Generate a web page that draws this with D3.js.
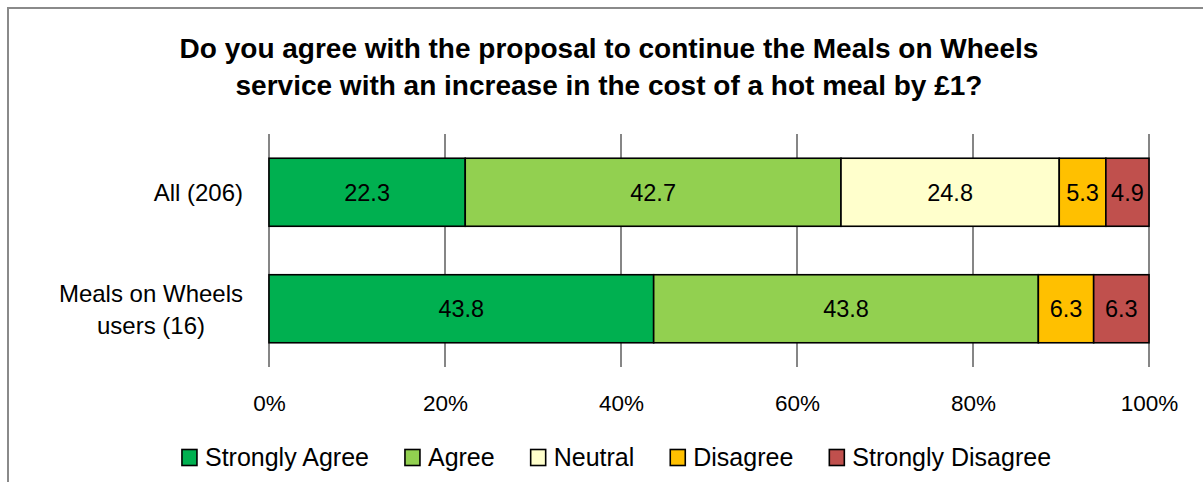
<!DOCTYPE html>
<html><head><meta charset="utf-8">
<script src="https://cdn.jsdelivr.net/npm/d3@7/dist/d3.min.js"></script>
<style>body{margin:0;background:#fff}svg{display:block}text{font-family:"Liberation Sans",Arial,sans-serif;fill:#000}</style>
</head><body>
<svg id="c" width="1203" height="482"></svg>
<script>
const titleLines = ["Do you agree with the proposal to continue the Meals on Wheels", "service with an increase in the cost of a hot meal by £1?"];
const categories = ["All (206)", "Meals on Wheels\nusers (16)"];
const seriesNames = ["Strongly Agree", "Agree", "Neutral", "Disagree", "Strongly Disagree"];
const seriesColors = ["#00B050", "#92D050", "#FFFFCC", "#FFC000", "#C0504D"];
const stronglyAgree = [22.3, 43.8];
const agree = [42.7, 43.8];
const neutral = [24.8, 0];
const disagree = [5.3, 6.3];
const stronglyDisagree = [4.9, 6.3];
const tickValues = [0, 0.2, 0.4, 0.6, 0.8, 1.0];

const seriesValues = [stronglyAgree, agree, neutral, disagree, stronglyDisagree];
const svg = d3.select("#c");

// chart border
svg.append("rect").attr("x", 8).attr("y", 8).attr("width", 1210).attr("height", 490)
  .attr("fill", "#fff").attr("stroke", "#8a8a8a").attr("stroke-width", 2);

// title
svg.append("g").selectAll("text").data(titleLines).join("text")
  .attr("x", 609).attr("y", (d, i) => 58 + i * 37)
  .attr("text-anchor", "middle").attr("font-weight", "bold").attr("font-size", 28)
  .text(d => d);

const x = d3.scaleLinear().domain([0, 1]).range([269, 1149]);
const y = d3.scaleBand().domain(categories).range([134, 367]).paddingInner(0.416).paddingOuter(0.208);

// gridlines
svg.append("g").selectAll("line").data(tickValues).join("line")
  .attr("x1", d => x(d)).attr("x2", d => x(d)).attr("y1", 134).attr("y2", 367)
  .attr("stroke", "#868686").attr("stroke-width", 2);

// tick labels via axis
const axis = d3.axisBottom(x).tickValues(tickValues).tickFormat(d3.format(".0%")).tickSize(0).tickPadding(0);
const ag = svg.append("g").attr("transform", "translate(0,411)").call(axis);
ag.select(".domain").remove();
ag.selectAll("text").attr("dy", 0).attr("font-size", 22.5).attr("fill", "#000")
  .style("font-family", '"Liberation Sans",Arial,sans-serif');

// stacked data (normalised to 100%)
const rows = categories.map((c, i) => {
  const vals = seriesValues.map(s => s[i]);
  const tot = d3.sum(vals);
  let acc = 0;
  return vals.map((v, j) => { const seg = {cat: c, j, v, x0: acc / tot, x1: (acc + v) / tot}; acc += v; return seg; });
}).flat().filter(d => d.v > 0);

svg.append("g").selectAll("rect").data(rows).join("rect")
  .attr("x", d => x(d.x0)).attr("width", d => x(d.x1) - x(d.x0))
  .attr("y", d => y(d.cat)).attr("height", y.bandwidth())
  .attr("fill", d => seriesColors[d.j]).attr("stroke", "#000").attr("stroke-width", 1.6);

svg.append("g").selectAll("text").data(rows).join("text")
  .attr("x", d => (x(d.x0) + x(d.x1)) / 2).attr("y", d => y(d.cat) + y.bandwidth() / 2 + 8.5)
  .attr("text-anchor", "middle").attr("font-size", 23.5).text(d => d.v.toFixed(1));

// category labels
const rightEdge = x(0) - 26;
categories.forEach(c => {
  const lines = c.split("\n");
  const g = svg.append("g");
  const ts = g.selectAll("text").data(lines).join("text").attr("font-size", 24)
    .attr("text-anchor", "middle").text(d => d);
  const maxW = d3.max(ts.nodes(), n => n.getComputedTextLength());
  const cy = y(c) + y.bandwidth() / 2;
  const lh = 32;
  ts.attr("x", rightEdge - maxW / 2)
    .attr("y", (d, i) => cy + 9 + (i - (lines.length - 1) / 2) * lh);
});

// legend
const lg = svg.append("g");
const items = lg.selectAll("g").data(seriesNames).join("g");
items.append("rect").attr("width", 15).attr("height", 16).attr("y", 449.5)
  .attr("fill", (d, i) => seriesColors[i]).attr("stroke", "#000").attr("stroke-width", 1.6);
items.append("text").attr("x", 23).attr("y", 466).attr("font-size", 25).text(d => d);
const gap = 36;
const widths = items.nodes().map(n => 23 + d3.select(n).select("text").node().getComputedTextLength());
const total = d3.sum(widths) + gap * (widths.length - 1);
let start = 616.5 - total / 2;
items.attr("transform", (d, i) => { const t = `translate(${start},0)`; start += widths[i] + gap; return t; });
</script>
</body></html>
